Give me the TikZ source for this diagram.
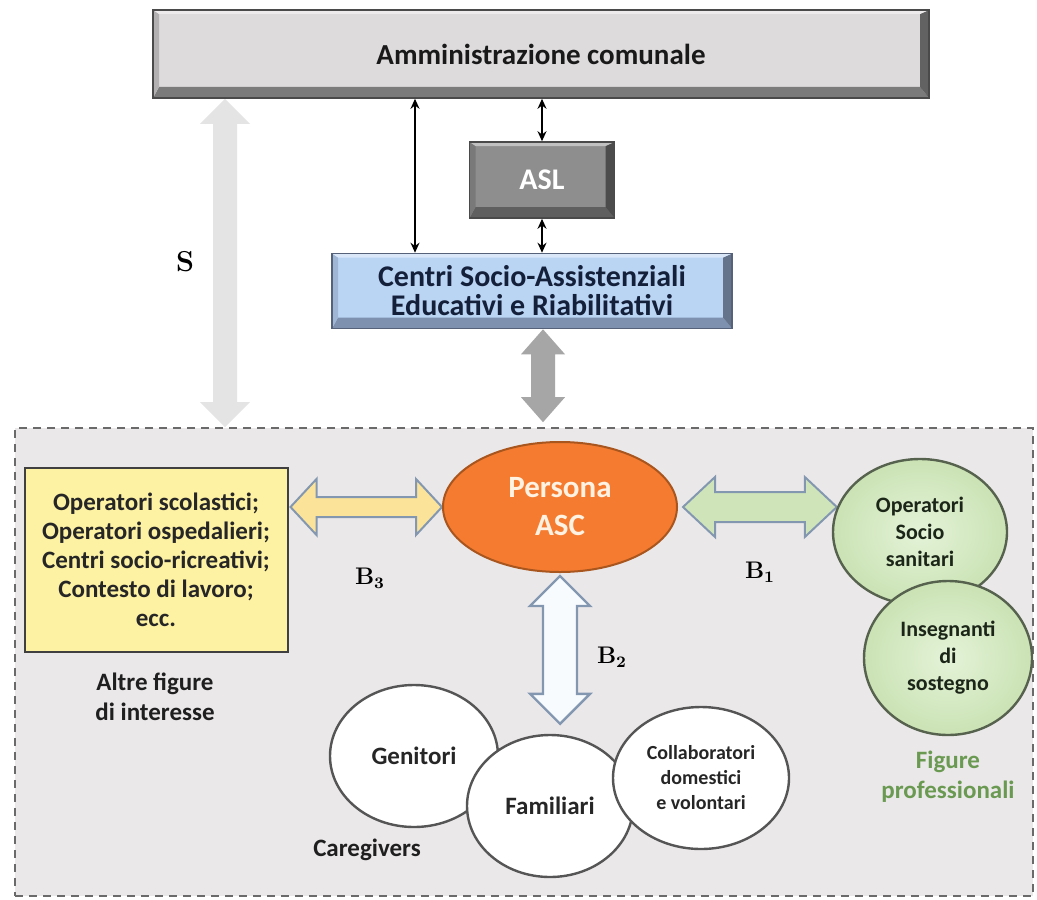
\documentclass[tikz,border=0pt]{standalone}
\usepackage[no-math]{fontspec}
\setmainfont{Carlito}
\usetikzlibrary{shapes.geometric,calc,arrows.meta}
\definecolor{admfill}{HTML}{DEDBDC}
\definecolor{admdark}{HTML}{7C7B7C}
\definecolor{admline}{HTML}{4A4A4A}
\definecolor{aslfill}{HTML}{8E8E8E}
\definecolor{asldark}{HTML}{5F5F5F}
\definecolor{csafill}{HTML}{BAD4F4}
\definecolor{csadark}{HTML}{7E91AE}
\definecolor{csaline}{HTML}{55627A}
\definecolor{csatext}{HTML}{14203A}
\definecolor{regfill}{HTML}{EBE8EA}
\definecolor{regline}{HTML}{6A6A6A}
\definecolor{sgray}{HTML}{E4E4E4}
\definecolor{ggray}{HTML}{A6A6A6}
\definecolor{yelfill}{HTML}{FDF1A3}
\definecolor{yarfill}{HTML}{FBE39A}
\definecolor{arline}{HTML}{8398B0}
\definecolor{persfill}{HTML}{F47B2F}
\definecolor{persline}{HTML}{A9561E}
\definecolor{perstext}{HTML}{FFF2E2}
\definecolor{garfill}{HTML}{CFE5B9}
\definecolor{grin}{HTML}{E4F3D8}
\definecolor{grout}{HTML}{CAE2B4}
\definecolor{grline}{HTML}{56624E}
\definecolor{grtext}{HTML}{1C2618}
\definecolor{wline}{HTML}{555555}
\definecolor{barfill}{HTML}{F8FBFE}
\definecolor{figtext}{HTML}{6A9A52}
\pgfdeclarelayer{bg}
\pgfdeclarelayer{arr}
\pgfsetlayers{bg,arr,main}
\newcommand\blockH[6]{%
 \path[#1] (#2) -- ($(#2)+(#6,-#5)$) -- ($(#2)+(#6,-#4)$) -- ($(#3)+(-#6,-#4)$) -- ($(#3)+(-#6,-#5)$) -- (#3) -- ($(#3)+(-#6,#5)$) -- ($(#3)+(-#6,#4)$) -- ($(#2)+(#6,#4)$) -- ($(#2)+(#6,#5)$) -- cycle;}
\newcommand\blockV[6]{%
 \path[#1] (#2) -- ($(#2)+(#5,#6)$) -- ($(#2)+(#4,#6)$) -- ($(#3)+(#4,-#6)$) -- ($(#3)+(#5,-#6)$) -- (#3) -- ($(#3)+(-#5,-#6)$) -- ($(#3)+(-#4,-#6)$) -- ($(#2)+(-#4,#6)$) -- ($(#2)+(-#5,#6)$) -- cycle;}
\tikzset{
 bevel/.style n args={3}{rectangle, inner sep=0pt, fill=#1, draw=#3, line width=0.8pt,
  path picture={
   \path (path picture bounding box.south west) coordinate (pSW)
         (path picture bounding box.south east) coordinate (pSE)
         (path picture bounding box.north east) coordinate (pNE)
         (path picture bounding box.north west) coordinate (pNW);
   \fill[#2] (pSW) -- (pSE) -- ($(pSE)+(-9,-11)$) -- ($(pSW)+(6,-11)$) -- cycle;
   \fill[#2!80!black] (pSE) -- (pNE) -- ($(pNE)+(-9,4)$) -- ($(pSE)+(-9,-11)$) -- cycle;
   \fill[#2!45!#1] (pNW) -- (pSW) -- ($(pSW)+(6,-11)$) -- ($(pNW)+(6,4)$) -- cycle;
   \fill[#1!55!white] (pNW) -- (pNE) -- ($(pNE)+(-9,4)$) -- ($(pNW)+(6,4)$) -- cycle;
  }},
 blk/.style={draw=black, line width=1pt, {Stealth[length=5pt,width=4.5pt]}-{Stealth[length=5pt,width=4.5pt]}},
 lbl/.style={font=\fontsize{12.5}{15}\selectfont\bfseries, align=center, text=black!88},
 greencirc/.style={ellipse, draw=grline, line width=1.2pt, inner color=grin, outer color=grout, inner sep=0pt, align=center, text=grtext, font=\fontsize{11}{13.5}\selectfont\bfseries},
 whitecirc/.style={ellipse, draw=wline, line width=1.2pt, fill=white, inner sep=0pt, align=center, text=black!85},
 blab/.style={font=\fontsize{12}{14}\selectfont, text=black}
}
\begin{document}
\begin{tikzpicture}[x=0.5pt,y=-0.5pt]
\useasboundingbox (0,0) rectangle (1037,899);
\begin{pgfonlayer}{bg}
\fill[white] (0,0) rectangle (1037,899);
\end{pgfonlayer}

% top boxes
\node[bevel={admfill}{admdark}{admline}, minimum width=388pt, minimum height=44pt, font=\fontsize{14.5}{16}\selectfont\bfseries, text=black!90] (adm) at (541,54) {Amministrazione comunale};
\node[bevel={aslfill}{asldark}{admline}, minimum width=72.5pt, minimum height=38pt, font=\fontsize{15}{16}\selectfont\bfseries, text=white] (asl) at (542,180) {ASL};
\node[bevel={csafill}{csadark}{csaline}, minimum width=200pt, minimum height=37.5pt, font=\fontsize{15}{14.5}\selectfont\bfseries, text=csatext, align=center] (csa) at (532,291) {Centri Socio-Assistenziali\\Educativi e Riabilitativi};

% dashed region
\begin{pgfonlayer}{bg}
\node[draw=regline, fill=regfill, dash pattern=on 4pt off 3pt, line width=0.8pt, minimum width=509pt, minimum height=234pt, inner sep=0pt] (reg) at (524,662) {};
\end{pgfonlayer}

% thin black arrows
\coordinate (xl) at (415,0);
\draw[blk] (xl |- adm.south) -- (xl |- csa.north);
\draw[blk] (asl.north |- adm.south) -- (asl.north);
\draw[blk] (asl.south) -- (asl.south |- csa.north);

% nodes of the lower region
\node[rectangle, draw=black!75, line width=1pt, fill=yelfill, minimum width=131.5pt, minimum height=92pt, inner sep=0pt, align=center, font=\fontsize{12.5}{14.5}\selectfont\bfseries, text=black!85] (yel) at (156,560) {Operatori scolastici;\\Operatori ospedalieri;\\Centri socio-ricreativi;\\Contesto di lavoro;\\ecc.};
\node[ellipse, fill=persfill, draw=persline, line width=1pt, minimum width=117pt, minimum height=65pt, inner sep=0pt, text=perstext, font=\fontsize{15.5}{19}\selectfont\bfseries, align=center] (pers) at (560,507) {Persona\\ASC};
\node[greencirc, minimum width=87pt, minimum height=73pt] (op) at (920,532) {Operatori\\Socio\\sanitari};
\node[greencirc, minimum width=84pt, minimum height=77pt] (ins) at (948,658) {Insegnanti\\di\\sostegno};
\node[whitecirc, minimum width=84pt, minimum height=71pt, font=\fontsize{12.5}{14}\selectfont\bfseries] (gen) at (414,756) {Genitori};
\node[whitecirc, minimum width=83pt, minimum height=71pt, font=\fontsize{12.5}{14}\selectfont\bfseries] (fam) at (550,806) {Familiari};
\node[whitecirc, minimum width=88pt, minimum height=71pt, font=\fontsize{10}{12.5}\selectfont\bfseries] (col) at (701,778) {Collaboratori\\domestici\\e volontari};

% block arrows
\begin{pgfonlayer}{arr}
\coordinate (sx) at (225,0);
\coordinate (s1) at (sx |- adm.south);
\coordinate (s2) at (sx |- reg.north);
\blockV{fill=sgray}{s1}{s2}{12}{25}{25}
\coordinate (gx) at (543,0);
\coordinate (g1) at (gx |- csa.south);
\coordinate (g2) at ($(gx |- reg.north)+(0,-5)$);
\blockV{fill=ggray}{g1}{g2}{12}{22}{25}
\coordinate (b3l) at ($(yel.east |- pers.west)+(2,0)$);
\blockH{fill=yarfill, draw=arline, line width=1pt}{b3l}{pers.west}{10}{28}{26}
\coordinate (b1l) at ($(pers.east)+(5,0)$);
\coordinate (b1r) at ($(op.west |- pers.east)+(5,0)$);
\blockH{fill=garfill, draw=arline, line width=1pt}{b1l}{b1r}{15}{30}{32}
\coordinate (b2t) at ($(pers.south)+(0,3)$);
\coordinate (b2b) at ($(b2t |- fam.north)+(0,-10)$);
\blockV{fill=barfill, draw=arline, line width=1.2pt}{b2t}{b2b}{17}{30}{30}
\end{pgfonlayer}

% labels
\node[font=\fontsize{14.4}{16}\selectfont] (ls) at (185,262) {$\mathbf{S}$};
\node[blab] (lb3) at (370,578) {$\mathbf{B_3}$};
\node[blab] (lb1) at (760,572) {$\mathbf{B_1}$};
\node[blab] (lb2) at (612,657) {$\mathbf{B_2}$};
\node[lbl] (altre) at (155,697) {Altre figure\\di interesse};
\node[lbl] (care) at (367,850) {Caregivers};
\node[lbl, text=figtext] (figp) at (948,777) {Figure\\professionali};
\end{tikzpicture}
\end{document}
